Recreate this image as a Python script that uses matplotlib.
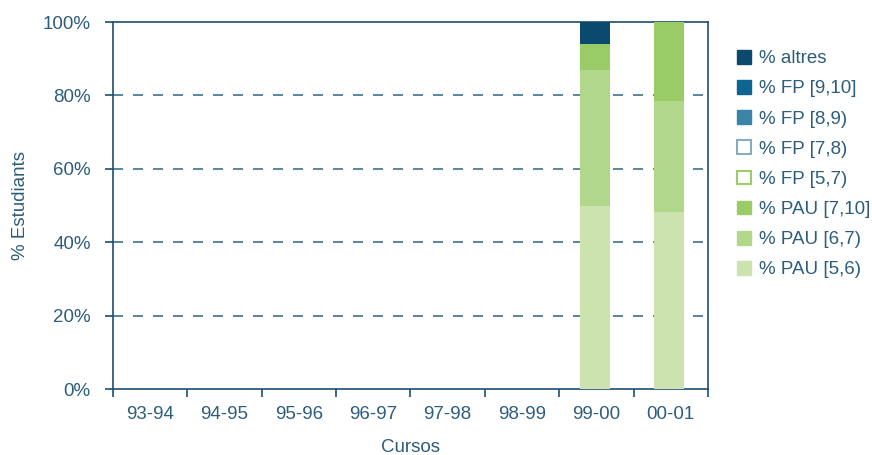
import numpy as np
import matplotlib.pyplot as plt
from matplotlib.patches import Patch

plt.rcParams['font.family'] = ['Liberation Sans', 'DejaVu Sans']

cursos = ['93-94', '94-95', '95-96', '96-97', '97-98', '98-99', '99-00', '00-01']

# percentatges per categoria (de baix a dalt)
pau_5_6 = [0, 0, 0, 0, 0, 0, 50.0, 48.2]
pau_6_7 = [0, 0, 0, 0, 0, 0, 37.0, 30.4]
pau_7_10 = [0, 0, 0, 0, 0, 0, 7.0, 21.4]
fp_5_7 = [0, 0, 0, 0, 0, 0, 0, 0]
fp_7_8 = [0, 0, 0, 0, 0, 0, 0, 0]
fp_8_9 = [0, 0, 0, 0, 0, 0, 0, 0]
fp_9_10 = [0, 0, 0, 0, 0, 0, 0, 0]
altres = [0, 0, 0, 0, 0, 0, 6.0, 0]

series = [
    ('% PAU [5,6)', pau_5_6, '#cce3b0', None),
    ('% PAU [6,7)', pau_6_7, '#b1d78b', None),
    ('% PAU [7,10]', pau_7_10, '#99cc66', None),
    ('% FP [5,7)', fp_5_7, 'white', '#9dcc6a'),
    ('% FP [7,8)', fp_7_8, 'white', '#8aaac0'),
    ('% FP [8,9)', fp_8_9, '#3a84a8', None),
    ('% FP [9,10]', fp_9_10, '#0e6590', None),
    ('% altres', altres, '#0b4a6e', None),
]

txt = '#2d5d7c'
axc = '#1f4e6e'
fs = 13.5

fig = plt.figure(figsize=(8.72, 4.55), dpi=100)
ax = fig.add_axes([0.1296, 0.145, 0.6823, 0.8066])

x = np.arange(len(cursos))
bottom = np.zeros(len(cursos))
handles = []
for label, vals, fc, ec in series:
    vals = np.array(vals)
    ax.bar(x - 0.02, vals, width=0.4, bottom=bottom, color=fc, edgecolor='none', zorder=3)
    bottom += vals
    if ec is None:
        handles.append(Patch(facecolor=fc, edgecolor=fc, label=label))
    else:
        handles.append(Patch(facecolor='white', edgecolor=ec, linewidth=1.5, label=label))

ax.set_xlim(-0.5, len(cursos) - 0.5)
ax.set_ylim(0, 100)
ax.set_yticks([0, 20, 40, 60, 80, 100])
ax.set_yticklabels(['0%', '20%', '40%', '60%', '80%', '100%'])
ax.set_xticks(x)
ax.set_xticklabels(cursos)
ax.set_xticks(np.arange(-0.5, len(cursos)), minor=True)
ax.tick_params(axis='x', which='major', length=0, pad=12, labelcolor=txt, labelsize=fs)
ax.tick_params(axis='x', which='minor', length=6, color=axc, width=1.2)
ax.tick_params(axis='y', length=6, color=axc, width=1.2, labelcolor=txt, labelsize=fs, pad=10)

for y in [20, 40, 60, 80]:
    ax.axhline(y, color='#3f6f8f', linestyle=(0, (6, 6)), linewidth=1.2, zorder=1)

for s in ax.spines.values():
    s.set_color(axc)
    s.set_linewidth(1.2)

ax.set_xlabel('Cursos', color=txt, fontsize=fs, labelpad=12)
ax.set_ylabel('% Estudiants', color=txt, fontsize=fs, labelpad=10)

leg = ax.legend(handles=handles[::-1], loc='upper left', bbox_to_anchor=(1.02, 0.97),
                frameon=False, fontsize=fs, labelspacing=0.68, handlelength=0.75,
                handleheight=0.75, handletextpad=0.45)
for t in leg.get_texts():
    t.set_color(txt)

fig.savefig('out.png', dpi=100)
